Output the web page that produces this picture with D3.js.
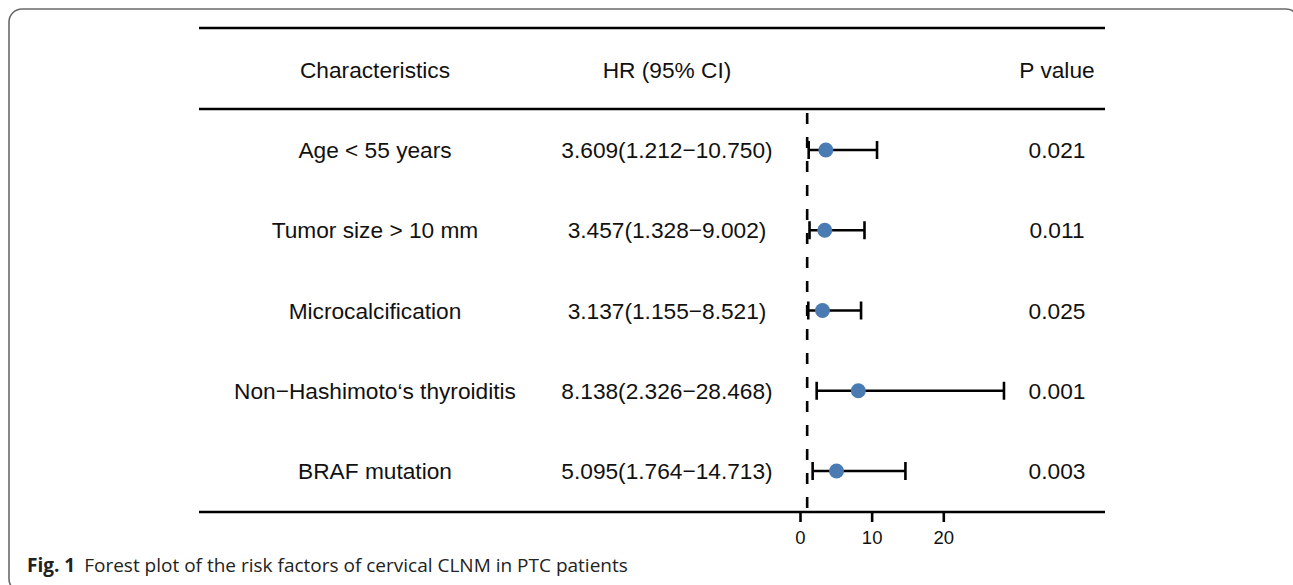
<!DOCTYPE html>
<html>
  <head>
    <meta charset="utf-8">
    <title>Forest plot</title>
    <style>
      body { margin: 0; background: #fff; }
      svg { display: block; }
      .tbl { font-family: "Liberation Sans", Arial, sans-serif; font-size: 22.7px; fill: #111; }
      .tick text { font-family: "Liberation Sans", Arial, sans-serif; font-size: 18.5px; fill: #111; }
      .cap { font-family: "Open Sans", "Noto Sans", sans-serif; font-size: 19px; fill: #222; }
    </style>
  </head>
  <body>
    <div id="forest"></div>
    <script src="https://d3js.org/d3.v7.min.js"></script>
    <script>

      var labels  = ["Age < 55 years", "Tumor size > 10 mm", "Microcalcification",
                     "Non\u2212Hashimoto\u2018s thyroiditis", "BRAF mutation"];
      var hr      = [3.609, 3.457, 3.137, 8.138, 5.095];
      var lower   = [1.212, 1.328, 1.155, 2.326, 1.764];
      var upper   = [10.750, 9.002, 8.521, 28.468, 14.713];
      var hrText  = ["3.609(1.212\u221210.750)", "3.457(1.328\u22129.002)", "3.137(1.155\u22128.521)",
                     "8.138(2.326\u221228.468)", "5.095(1.764\u221214.713)"];
      var pvals   = ["0.021", "0.011", "0.025", "0.001", "0.003"];
      var headers = ["Characteristics", "HR (95% CI)", "P value"];
      var xticks  = [0, 10, 20];
      var refLine = 1;

      var W = 1293, H = 585;

      var colX    = [375, 667, 1057],
          tblLeft = 199,
          tblRight = 1105,
          topRule = 28,
          headRule = 109,
          botRule = 512,
          headY   = 70;

      var svg = d3.select("#forest").append("svg")
                  .attr("width", W)
                  .attr("height", H);

      // frame round the figure
      svg.append("rect")
          .attr("x", 9).attr("y", 9)
          .attr("width", 1290).attr("height", 583)
          .attr("rx", 13)
          .attr("fill", "none")
          .attr("stroke", "#6a6a6a")
          .attr("stroke-width", 1.6);

      var x = d3.scaleLinear().domain([0, 20]).range([800, 943.3]);
      var y = d3.scalePoint().domain(labels).range([150, 471]);

      // rules
      [topRule, headRule, botRule].forEach(function(r){
        svg.append("line")
            .attr("x1", tblLeft).attr("x2", tblRight)
            .attr("y1", r).attr("y2", r)
            .attr("stroke", "#000")
            .attr("stroke-width", 2.6);
      });

      // header
      svg.selectAll(".head")
          .data(headers)
          .enter().append("text")
          .attr("class", "tbl head")
          .attr("x", function(d,i){ return colX[i] })
          .attr("y", headY)
          .attr("dy", "0.36em")
          .attr("text-anchor", "middle")
          .text(function(d){ return d });

      var rows = svg.selectAll(".row")
          .data(labels)
          .enter().append("g")
          .attr("class", "row")
          .attr("transform", function(d){ return "translate(0," + y(d) + ")" });

      rows.append("text").attr("class", "tbl")
          .attr("x", colX[0]).attr("dy", "0.36em")
          .attr("text-anchor", "middle")
          .text(function(d){ return d });

      rows.append("text").attr("class", "tbl")
          .attr("x", colX[1]).attr("dy", "0.36em")
          .attr("text-anchor", "middle")
          .text(function(d,i){ return hrText[i] });

      rows.append("text").attr("class", "tbl")
          .attr("x", colX[2]).attr("dy", "0.36em")
          .attr("text-anchor", "middle")
          .text(function(d,i){ return pvals[i] });

      // reference line at HR = 1
      svg.append("line")
          .attr("x1", x(refLine)).attr("x2", x(refLine))
          .attr("y1", headRule + 4).attr("y2", botRule)
          .attr("stroke", "#000")
          .attr("stroke-width", 2.6)
          .attr("stroke-dasharray", "11,13");

      // CI whiskers
      var capH = 9;
      rows.append("line")
          .attr("x1", function(d,i){ return x(lower[i]) })
          .attr("x2", function(d,i){ return x(upper[i]) })
          .attr("stroke", "#000").attr("stroke-width", 2.6);
      rows.append("line")
          .attr("x1", function(d,i){ return x(lower[i]) })
          .attr("x2", function(d,i){ return x(lower[i]) })
          .attr("y1", -capH).attr("y2", capH)
          .attr("stroke", "#000").attr("stroke-width", 2.6);
      rows.append("line")
          .attr("x1", function(d,i){ return x(upper[i]) })
          .attr("x2", function(d,i){ return x(upper[i]) })
          .attr("y1", -capH).attr("y2", capH)
          .attr("stroke", "#000").attr("stroke-width", 2.6);

      rows.append("circle")
          .attr("cx", function(d,i){ return x(hr[i]) })
          .attr("r", 7.5)
          .attr("fill", "#4b7bb3");

      // x axis (the bottom rule is its line)
      var xAxis = d3.axisBottom(x).tickValues(xticks).tickSize(10).tickPadding(9);
      var gX = svg.append("g")
          .attr("transform", "translate(0," + botRule + ")")
          .call(xAxis);
      gX.select(".domain").remove();
      gX.selectAll(".tick line").attr("stroke", "#000").attr("stroke-width", 2.6);

      // caption
      var cap = svg.append("text").attr("class", "cap")
          .attr("x", 27).attr("y", 572);
      cap.append("tspan").attr("font-weight", "bold").text("Fig. 1");
      cap.append("tspan").attr("dx", 9).text("Forest plot of the risk factors of cervical CLNM in PTC patients");

    </script>
  </body>
</html>
